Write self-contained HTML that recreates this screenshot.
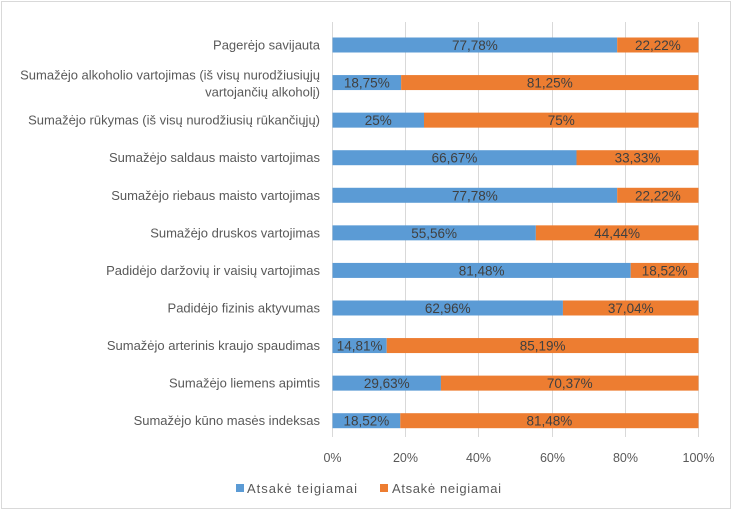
<!DOCTYPE html>
<html><head><meta charset="utf-8"><style>
body{margin:0;background:#fff;}
svg text{font-family:"Liberation Sans",sans-serif;}
</style></head><body>
<svg width="736" height="514" xmlns="http://www.w3.org/2000/svg">
<rect x="1.5" y="1.5" width="729" height="507" fill="#fff" stroke="#d9d9d9"/>
<g stroke="#d9d9d9" stroke-width="1">
<line x1="332.5" y1="22" x2="332.5" y2="437"/>
<line x1="405.5" y1="22" x2="405.5" y2="437"/>
<line x1="478.5" y1="22" x2="478.5" y2="437"/>
<line x1="552.5" y1="22" x2="552.5" y2="437"/>
<line x1="625.5" y1="22" x2="625.5" y2="437"/>
<line x1="698.5" y1="22" x2="698.5" y2="437"/>
</g>
<g id="bars" font-size="13.5" fill="#404040" text-anchor="middle"></g>
<g font-size="13" fill="#595959" text-anchor="end" id="labels"></g>
<g font-size="12.5" fill="#595959" text-anchor="middle">
<text x="332.5" y="462">0%</text><text x="405.5" y="462">20%</text><text x="478.5" y="462">40%</text><text x="552.5" y="462">60%</text><text x="625.5" y="462">80%</text><text x="698.5" y="462">100%</text>
</g>
<rect x="236" y="484" width="8" height="8" fill="#5B9BD5"/>
<text x="247" y="493" font-size="13" fill="#595959" textLength="110" lengthAdjust="spacing">Atsakė teigiamai</text>
<rect x="380" y="484" width="8" height="8" fill="#ED7D31"/>
<text x="392" y="493" font-size="13" fill="#595959" textLength="109" lengthAdjust="spacing">Atsakė neigiamai</text>
<script>
var d=[["Pagerėjo savijauta",77.78,"77,78%","22,22%"],
[["Sumažėjo alkoholio vartojimas (iš visų nurodžiusiųjų","vartojančių alkoholį)"],18.75,"18,75%","81,25%"],
["Sumažėjo rūkymas (iš visų nurodžiusių rūkančiųjų)",25,"25%","75%"],
["Sumažėjo saldaus maisto vartojimas",66.67,"66,67%","33,33%"],
["Sumažėjo riebaus maisto vartojimas",77.78,"77,78%","22,22%"],
["Sumažėjo druskos vartojimas",55.56,"55,56%","44,44%"],
["Padidėjo daržovių ir vaisių vartojimas",81.48,"81,48%","18,52%"],
["Padidėjo fizinis aktyvumas",62.96,"62,96%","37,04%"],
["Sumažėjo arterinis kraujo spaudimas",14.81,"14,81%","85,19%"],
["Sumažėjo liemens apimtis",29.63,"29,63%","70,37%"],
["Sumažėjo kūno masės indeksas",18.52,"18,52%","81,48%"]];
var ns="http://www.w3.org/2000/svg",b=document.getElementById("bars"),l=document.getElementById("labels");
function el(p,t,a,tx){var e=document.createElementNS(ns,t);for(var k in a)e.setAttribute(k,a[k]);if(tx)e.textContent=tx;p.appendChild(e);return e;}
var x0=332.5,W=366;
d.forEach(function(r,i){var c=45+i*37.57,w=W*r[1]/100;
el(b,"rect",{x:x0,y:c-7.5,width:w,height:15,fill:"#5B9BD5"});
el(b,"rect",{x:x0+w,y:c-7.5,width:W-w,height:15,fill:"#ED7D31"});
el(b,"text",{x:x0+w/2,y:c+5},r[2]);
el(b,"text",{x:x0+w+(W-w)/2,y:c+5},r[3]);
if(Array.isArray(r[0])){el(l,"text",{x:320,y:c-3},r[0][0]);el(l,"text",{x:320,y:c+14},r[0][1]);}
else el(l,"text",{x:320,y:c+4.5},r[0]);
});
</script>
</svg>
</body></html>
